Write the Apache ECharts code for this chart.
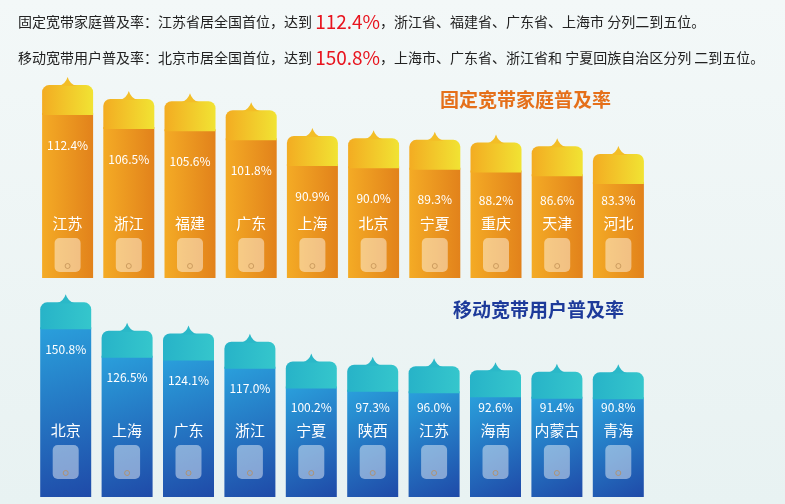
<!DOCTYPE html>
<html><head><meta charset="utf-8">
<script src="https://cdn.jsdelivr.net/npm/echarts@6/dist/echarts.min.js"></script>
<style>html,body{margin:0;padding:0;}#c{width:785px;height:504px;background:linear-gradient(180deg,#f3f8f8,#e8f2f2);}</style>
</head><body><div id="c"></div>
<script>
const fixedCats = ['江苏','浙江','福建','广东','上海','北京','宁夏','重庆','天津','河北'];
const fixedVals = [112.4,106.5,105.6,101.8,90.9,90.0,89.3,88.2,86.6,83.3];
const mobileCats = ['北京','上海','广东','浙江','宁夏','陕西','江苏','海南','内蒙古','青海'];
const mobileVals = [150.8,126.5,124.1,117.0,100.2,97.3,96.0,92.6,91.4,90.8];

const F = '"Noto Sans CJK SC","Noto Sans",sans-serif';
function makeRender(cfg){
  return function(params, api){
    const i = api.value(0), v = api.value(1);
    const top = api.coord([i, v]);
    const base = api.coord([i, cfg.min]);
    const cx = top[0], w = 51, x = cx - w/2, y = top[1];
    const bottom = base[1];
    const capH = cfg.capH;
    const c = [];
    c.push({type:'rect', shape:{x:x, y:y+capH-2, width:w, height:bottom-(y+capH-2)},
      style:{fill:cfg.body}});
    c.push({type:'rect', shape:{x:x, y:y, width:w, height:capH, r:[7,7,0,0]}, style:{fill:cfg.cap}});
    c.push({type:'path', shape:{pathData:
      'M'+(cx-9)+' '+(y+1)+' Q'+(cx-2)+' '+(y-1)+' '+cx+' '+(y-8)+' Q'+(cx+2)+' '+(y-1)+' '+(cx+9)+' '+(y+1)+' Z'},
      style:{fill:cfg.bump}});
    const ly = Math.min(y+cfg.labOff, cfg.nameY-23);
    c.push({type:'text', style:{x:cx, y:ly, text:v.toFixed(1)+'%', fill:'#fff', font:'12px '+F, align:'center', verticalAlign:'middle'}});
    c.push({type:'text', style:{x:cx, y:cfg.nameY, text:api.value(2), fill:'#fff', font:'15px '+F, align:'center', verticalAlign:'middle'}});
    c.push({type:'rect', shape:{x:cx-13, y:cfg.nameY+15, width:26, height:34, r:5}, style:{fill:'rgba(255,255,255,0.45)'}});
    c.push({type:'circle', shape:{cx:cx, cy:cfg.nameY+43, r:2.5}, style:{fill:'none', stroke:'rgba(190,140,80,0.7)', lineWidth:1}});
    return {type:'group', children:c};
  };
}
const lin = (x1,y1,x2,y2,a,b)=>new echarts.graphic.LinearGradient(x1,y1,x2,y2,[{offset:0,color:a},{offset:1,color:b}]);
const topCfg = {min:31, capH:30, labOff:60, nameY:223,
  body: lin(0,0,1,0,'#f4ab25','#e2821b'), cap: lin(0,0,1,0,'#f3ac22','#f1e333'), bump:'#f3be27'};
const botCfg = {min:-16, capH:27, labOff:47, nameY:430,
  body: lin(0,0,1,1,'#2aa0dc','#1f4aa8'), cap: lin(0,0,1,0,'#27b3c8','#35c6cc'), bump:'#2bb8c8'};

const chart = echarts.init(document.getElementById('c'));
chart.setOption({
  animation:false,
  grid:[{left:37, width:612, top:278-89*2.37, height:89*2.37},
        {left:35, width:614, top:497-166*1.167, height:166*1.167}],
  xAxis:[{gridIndex:0, type:'category', data:fixedCats, show:false},
         {gridIndex:1, type:'category', data:mobileCats, show:false}],
  yAxis:[{gridIndex:0, min:31, max:120, show:false},
         {gridIndex:1, min:-16, max:150, show:false}],
  graphic:[
    {type:'text', left:18, top:12, style:{rich:{a:{font:'14px '+F, fill:'#222'}, r:{font:'19px '+F, fill:'#e8141e'}},
      text:'{a|固定宽带家庭普及率：江苏省居全国首位，达到 }{r|112.4%}{a|，浙江省、福建省、广东省、上海市 分列二到五位。}'}},
    {type:'text', left:18, top:48, style:{rich:{a:{font:'14px '+F, fill:'#222'}, r:{font:'19px '+F, fill:'#e8141e'}},
      text:'{a|移动宽带用户普及率：北京市居全国首位，达到 }{r|150.8%}{a|，上海市、广东省、浙江省和 宁夏回族自治区分列 二到五位。}'}},
    {type:'text', left:440, top:90, style:{text:'固定宽带家庭普及率', font:'bold 19px '+F, fill:'#e5701a'}},
    {type:'text', left:453, top:300, style:{text:'移动宽带用户普及率', font:'bold 19px '+F, fill:'#1d3a9a'}}
  ],
  series:[
    {type:'custom', xAxisIndex:0, yAxisIndex:0, renderItem:makeRender(topCfg),
     data:fixedVals.map((v,i)=>[i,v,fixedCats[i]])},
    {type:'custom', xAxisIndex:1, yAxisIndex:1, renderItem:makeRender(botCfg),
     data:mobileVals.map((v,i)=>[i,v,mobileCats[i]])}
  ]
});
</script></body></html>
